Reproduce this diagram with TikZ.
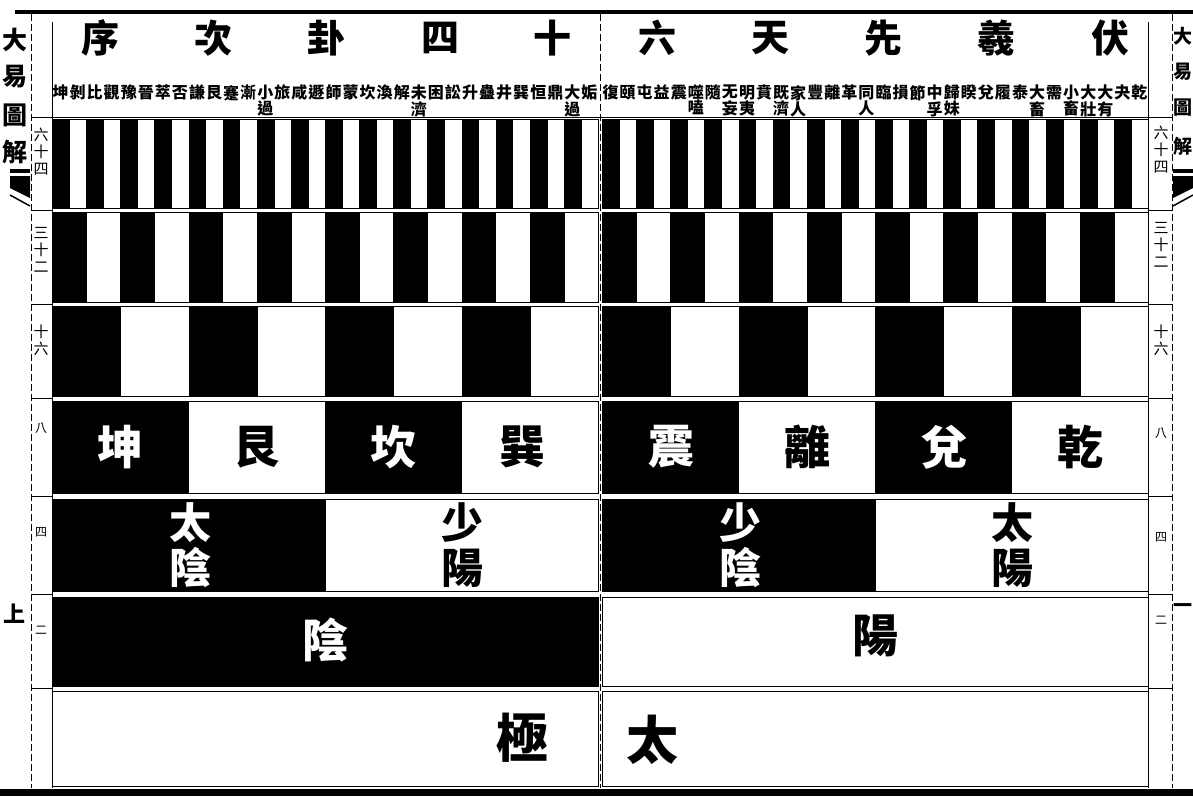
\documentclass[tikz,border=0pt]{standalone}
\usepackage{fontspec}
\setmainfont{Noto Sans CJK TC}
\begin{document}
\begin{tikzpicture}[x=1pt,y=-1pt,
  rule/.style={line width=1pt},
  dashrule/.style={line width=1pt,dash pattern=on 7pt off 3pt},
  titlech/.style={inner sep=0pt,font=\fontsize{38}{38}\selectfont\bfseries},
  hexname/.style={inner sep=0pt,anchor=north,align=center,font=\fontsize{16}{15}\selectfont\bfseries},
  lbl/.style={inner sep=0pt,align=center,font=\fontsize{15}{17}\selectfont},
  lbls/.style={inner sep=0pt,font=\fontsize{12}{12}\selectfont},
  trig/.style={inner sep=0pt,font=\fontsize{46}{46}\selectfont\bfseries},
  yy/.style={inner sep=0pt,align=center,font=\fontsize{42}{45}\selectfont\bfseries},
  spinel/.style={inner sep=0pt,font=\fontsize{25}{25}\selectfont\bfseries},
  spiner/.style={inner sep=0pt,font=\fontsize{19}{19}\selectfont\bfseries},
]
\useasboundingbox (0,0) rectangle (1193,797);
\fill[white] (0,0) rectangle (1193,797);

% ---- alternating rows (64, 32, 16, 8, 4) ----
\foreach \n/\t/\b in {32/120/208,16/212/302,8/306/396,4/401/493,2/499/591}{
  \pgfmathsetmacro\w{546/\n}
  \pgfmathtruncatemacro\h{\n/2-1}
  \foreach \px in {52,602}{
    \foreach \k in {0,...,\h}{
      \fill (\px+2*\k*\w,\t) rectangle (\px+2*\k*\w+\w+0.8,\b);
    }
    \draw[rule] (\px,\t) rectangle (\px+546,\b);
  }
}
% ---- row 2 ----
\fill (52,597) rectangle (598,686);
\draw[rule] (52,597) rectangle (598,686);
\draw[rule] (602,597) rectangle (1148,686);
% ---- row 1 ----
\draw[rule] (52,691) rectangle (598,786);
\draw[rule] (602,691) rectangle (1148,786);

% ---- frame ----
\draw[line width=4pt] (15,12) -- (1193,12);
\draw[line width=7pt] (0,792) -- (1193,792);
\draw[dashrule] (31,14) -- (31,788);
\draw[dashrule] (1172,14) -- (1172,788);
\draw[rule] (52,22) -- (52,788);
\draw[rule] (1148,22) -- (1148,788);
\draw[dashrule] (600,14) -- (600,788);
\draw[rule] (31,118) -- (1172,118);
\foreach \y in {210,304,398.5,496,594,688.5}{
  \draw[rule] (31,\y) -- (52,\y);
  \draw[rule] (1148,\y) -- (1172,\y);
}

% ---- title ----
\node[titlech] (t1) at (100,38) {序};
\node[titlech] (t2) at (213,38) {次};
\node[titlech] (t3) at (326,38) {卦};
\node[titlech] (t4) at (440,38) {四};
\node[titlech] (t5) at (552,38) {十};
\node[titlech] (t6) at (657,38) {六};
\node[titlech] (t7) at (770,38) {天};
\node[titlech] (t8) at (883,38) {先};
\node[titlech] (t9) at (996,38) {羲};
\node[titlech] (t10) at (1110,38) {伏};

% ---- hexagram names ----
\foreach \nm [count=\c from 0] in {坤,剝,比,觀,豫,晉,萃,否,謙,艮,蹇,漸,{小\\過},旅,咸,遯,師,蒙,坎,渙,解,{未\\濟},困,訟,升,蠱,井,巽,恒,鼎,{大\\過},姤}{
  \node[hexname] (nl\c) at (52+\c*17.0625+8.53,85) {\nm};
}
\foreach \nm [count=\c from 0] in {復,頤,屯,益,震,{噬\\嗑},隨,{无\\妄},{明\\夷},賁,{既\\濟},{家\\人},豐,離,革,{同\\人},臨,損,節,{中\\孚},{歸\\妹},睽,兌,履,泰,{大\\畜},需,{小\\畜},{大\\壯},{大\\有},夬,乾}{
  \node[hexname] (nr\c) at (602+\c*17.0625+8.53,85) {\nm};
}

% ---- margin labels ----
\node[lbl] (l64) at (41,152) {六\\十\\四};
\node[lbl] (l32) at (41,250) {三\\十\\二};
\node[lbl] (l16) at (41,340) {十\\六};
\node[lbls] (l8) at (41,428) {八};
\node[lbls] (l4) at (41,532) {四};
\node[lbls] (l2) at (41,630) {二};
\node[lbl] (r64) at (1161,150) {六\\十\\四};
\node[lbl] (r32) at (1161,245) {三\\十\\二};
\node[lbl] (r16) at (1161,340) {十\\六};
\node[lbls] (r8) at (1161,433) {八};
\node[lbls] (r4) at (1161,537) {四};
\node[lbls] (r2) at (1161,620) {二};

% ---- trigrams ----
\node[trig,text=white] (kun) at (120,447) {坤};
\node[trig] (gen) at (256,447) {艮};
\node[trig,text=white] (kan) at (393,447) {坎};
\node[trig] (xun) at (522,447) {巽};
\node[trig,text=white] (zhen) at (671,447) {震};
\node[trig] (li) at (807,447) {離};
\node[trig,text=white] (dui) at (944,447) {兌};
\node[trig] (qian) at (1080,447) {乾};

% ---- four images ----
\node[yy,text=white] (taiyin) at (190,545) {太\\陰};
\node[yy] (shaoyang) at (462,545) {少\\陽};
\node[yy,text=white] (shaoyin) at (740,545) {少\\陰};
\node[yy] (taiyang) at (1012,545) {太\\陽};

% ---- two modes ----
\node[trig,text=white] (yin) at (325,640) {陰};
\node[trig] (yang) at (875,636) {陽};

% ---- taiji ----
\node[trig,font=\fontsize{52}{52}\selectfont\bfseries] (ji) at (522,738) {極};
\node[trig,font=\fontsize{52}{52}\selectfont\bfseries] (tai) at (652,740) {太};

% ---- spine ----
\node[spinel] (sl1) at (15,40) {大};
\node[spinel] (sl2) at (15,77) {易};
\node[spinel] (sl3) at (15,115) {圖};
\node[spinel] (sl4) at (15,152) {解};
\node[spiner] (sr1) at (1183,36) {大};
\node[spiner] (sr2) at (1183,72) {易};
\node[spiner] (sr3) at (1183,108) {圖};
\node[spiner] (sr4) at (1183,146) {解};
\fill (10,169) rectangle (30,173);
\fill (10,176) -- (30,176) -- (30,198) -- (10,188) -- cycle;
\draw[line width=1.5pt] (10,195) -- (30,206);
\fill (1173,169) rectangle (1193,173);
\fill (1173,176) -- (1193,176) -- (1193,188) -- (1173,198) -- cycle;
\draw[line width=1.5pt] (1173,206) -- (1193,195);

\node[inner sep=0pt,font=\fontsize{22}{22}\selectfont\bfseries] (shang) at (15,614) {上};
\node[inner sep=0pt,font=\fontsize{19}{19}\selectfont\bfseries] (yi) at (1183,608) {一};
\end{tikzpicture}
\end{document}
